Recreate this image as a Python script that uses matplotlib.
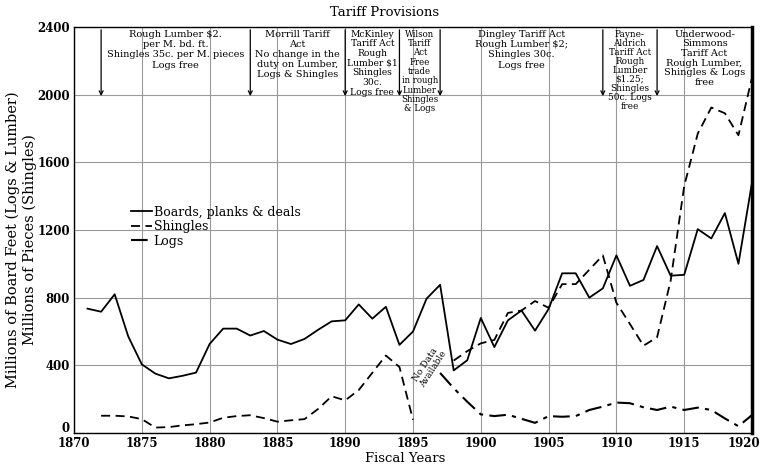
import matplotlib
matplotlib.use("Agg")
import matplotlib.pyplot as plt
import matplotlib.transforms as mtransforms
import numpy as np

plt.rcParams['font.family'] = ['DejaVu Serif']

# imports by fiscal year
board_years = list(range(1871, 1921))
boards = [735, 717, 820, 571, 406, 351, 323, 338, 357, 526,
          617, 617, 576, 603, 552, 526, 556, 610, 660, 666,
          760, 676, 746, 521, 600, 794, 876, 370, 430, 680,
          508, 666, 724, 605, 733, 944, 944, 800, 855, 1050,
          870, 905, 1105, 930, 935, 1205, 1150, 1300, 1000, 1480]

shingle_years = list(range(1872, 1921))
nan = np.nan
shingles = [102, 102, 98, 82, 32, 35, 45, 52, 62,
            90, 100, 105, 88, 67, 75, 82, 142, 217, 193,
            254, 356, 458, 390, 78, nan, nan, 428, 484, 530,
            550, 710, 724, 780, 740, 880, 880, 965, 1050, 770,
            644, 516, 566, 900, 1460, 1770, 1924, 1890, 1760, 2100]

log_years = list(range(1897, 1921))
logs = [355, 265, 185, 110,
        100, 108, 84, 60, 100, 96, 100, 136, 156, 180,
        176, 152, 136, 156, 136, 150, 136, 86, 40, 106]

# tariff acts: start year and provisions
tariff_years = [1872, 1883, 1890, 1894, 1897, 1909, 1913, 1920]
tariff_text = [
    "Rough Lumber \\$2.\nper M. bd. ft.\nShingles 35c. per M. pieces\nLogs free",
    "Morrill Tariff\nAct\nNo change in the\nduty on Lumber,\nLogs & Shingles",
    "McKinley\nTariff Act\nRough\nLumber \\$1\nShingles\n30c.\nLogs free",
    "Wilson\nTariff\nAct\nFree\ntrade\nin rough\nLumber\nShingles\n& Logs",
    "Dingley Tariff Act\nRough Lumber \\$2;\nShingles 30c.\nLogs free",
    "Payne-\nAldrich\nTariff Act\nRough\nLumber\n\\$1.25;\nShingles\n50c. Logs\nfree",
    "Underwood-\nSimmons\nTariff Act\nRough Lumber,\nShingles & Logs\nfree",
]
text_sizes = [7, 7, 6.6, 6.2, 7, 6.4, 7]
line_gaps = [1.2, 1.15, 1.1, 1.05, 1.2, 1.0, 1.1]

fig = plt.figure(figsize=(7.65, 4.67), dpi=100)
ax = fig.add_axes([74 / 765, 34 / 467, 678 / 765, 406 / 467])

ax.set_xlim(1870, 1920)
ax.set_ylim(0, 2400)
ax.set_xticks(range(1870, 1921, 5))
ax.set_yticks(range(0, 2401, 400))
ax.grid(True, color='#9a9a9a', linewidth=0.8)
ax.set_axisbelow(True)
ax.tick_params(length=0, labelsize=8.5, pad=3)
for lab in ax.get_xticklabels() + ax.get_yticklabels():
    lab.set_fontweight('bold')
# keep the last year label inside the figure, lift the zero off the year row
last = ax.get_xticklabels()[-1]
last.set_transform(last.get_transform() +
                   mtransforms.ScaledTranslation(-6 / 72, 0, fig.dpi_scale_trans))
zero = ax.get_yticklabels()[0]
zero.set_transform(zero.get_transform() +
                   mtransforms.ScaledTranslation(0, 4 / 72, fig.dpi_scale_trans))
for side in ['left', 'bottom', 'top']:
    ax.spines[side].set_linewidth(1.0)
ax.spines['right'].set_linewidth(2.5)

ax.plot(board_years, boards, color='black', linewidth=1.3,
        label='Boards, planks & deals')
ax.plot(shingle_years, shingles, color='black', linewidth=1.3,
        dashes=(5, 3), label='Shingles')
ax.plot(log_years, logs, color='black', linewidth=1.5,
        dashes=(8, 3, 2, 3), label='Logs')

# tariff dividers and provisions
for i, yr in enumerate(tariff_years[:-1]):
    ax.annotate('', xy=(yr, 1975), xytext=(yr, 2400),
                arrowprops=dict(arrowstyle='->', color='black',
                                linewidth=0.9, mutation_scale=7))
    mid = (yr + tariff_years[i + 1]) / 2
    ax.text(mid, 2385, tariff_text[i], ha='center', va='top',
            fontsize=text_sizes[i], linespacing=line_gaps[i])

ax.text(1896.2, 390, "No Data\nAvailable", rotation=57, ha='center',
        va='center', fontsize=6.5, linespacing=1.0)

leg = ax.legend(loc='upper left', bbox_to_anchor=(0.075, 0.575),
                frameon=False, fontsize=9, handlelength=1.7,
                handletextpad=0.1, labelspacing=0.12, borderpad=0)

fig.text(385 / 765, 1 - 12 / 467, "Tariff Provisions", ha='center',
         va='center', fontsize=9.5)
fig.text(405 / 765, 1 - 458 / 467, "Fiscal Years", ha='center',
         va='center', fontsize=9.5)
fig.text(21 / 765, 1 - 240 / 467,
         "Millions of Board Feet (Logs & Lumber)\nMillions of Pieces (Shingles)",
         rotation=90, ha='center', va='center', fontsize=10.5,
         linespacing=1.25, multialignment='center')

fig.savefig("out.png", dpi=100)
